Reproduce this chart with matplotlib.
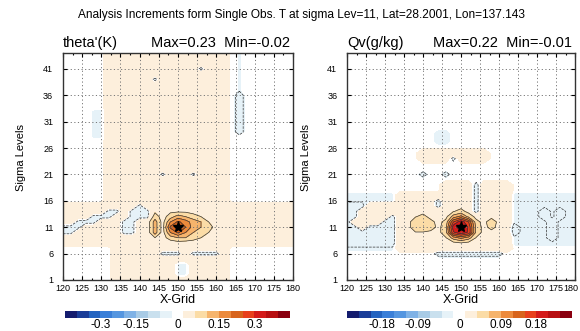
import numpy as np
import matplotlib.pyplot as plt
from matplotlib.transforms import ScaledTranslation

plt.rcParams['font.family'] = ['Liberation Sans', 'DejaVu Sans']

# grid of the cross-section
x_grid = np.arange(120, 181, 2)
sigma = np.arange(44, 0, -1)   # rows of the maps below, top row first

obs_x = 150
obs_level = 11

# value of each letter in the maps
code_value = {'.': 0.0, 'c': -0.007, 'b': -0.02, 'p': 0.02, 'a': 0.028, 'A': 0.04,
              '2': 0.05, '3': 0.075, '4': 0.10, '5': 0.125, '6': 0.15, '7': 0.175,
              '8': 0.20, 'E': 0.21, '9': 0.225, 'F': 0.23}

# theta'(K) (x = 120..180 step 2, sigma 44..1)
theta_rows = [
    "......pppppppppppppppp.c.......",  # 44
    "......pppppppppppppppp.c.......",
    "......pppppppppppppppp.c.......",
    "......ppppppppppppbppp.c.......",  # 41
    "......pppppppppppppppp.c.......",
    "......ppppppbppppppppp.c.......",
    "......pppppppppppppppp.c.......",
    "......pppppppppppppppp.c.......",
    "......pppppppppppppppp.b.......",  # 36
    "......pppppppppppppppp.b.......",
    "......pppppppppppppppp.b.......",
    "....ccpppppppppppppppp.b.......",
    "....ccpppppppppppppppp.b.......",
    "....ccpppppppppppppppp.b.......",  # 31
    "....ccpppppppppppppppp.b.......",
    "....ccpppppppppppppppp.b.......",
    "....ccpppppppppppppppp.........",
    "......pppppppppppppppp.........",
    "......pppppppppppppppp.........",  # 26
    "......pppppppppppppppp.........",
    "......pppppppppppppppp.........",
    "......pppppppppppppppp.........",
    "......pppppppppppppppp.........",
    "......pppppppbpppbpppp.........",  # 21
    "......pppppppppppppppp.........",
    "......pppppppppppppppp.........",
    "......pppppppppppppppp.........",
    "......pppppppppppppppp.........",
    "......pppppppppppppppp.........",  # 16
    "ppppppppppbpppppppppppppppppppp",
    "ppppppbbpbbbAaAAAappppppppppppp",
    "ppppbbbppbbb3a35432Appppppppppp",
    "ppbbbpppbbpp5a6E7542ppppppppppp",
    "bbbpppppbbpp5aEF8543apppppppppp",  # 11
    "bbppppppbbpp5a6E6432ppppppppppp",
    "pppppppppppp2a34432Appppppppppp",
    "pppppppppppppppappppppppppppppp",
    ".......ppppppppppppppp.........",
    ".......ppppppbbbpbbbbp.........",  # 6
    ".......ppppppppppppppp.........",
    ".......ppppppppccppppp.........",
    ".......ppppppppccppppp.........",
    ".......ppppppppccppppp.........",
    ".......ppppppppppppppp.........",  # 1
]

# Qv(g/kg)
qv_rows = [
    "...............................",  # 44
    "...............................",
    "...............................",
    "...............................",  # 41
    "...............................",
    "...............................",
    "...............................",
    "...............................",
    "...............................",  # 36
    "...............................",
    "...............................",
    "...............................",
    "...............................",
    "...............................",  # 31
    "...............................",
    "............cc.................",
    "............cc.................",
    "............cc.................",
    "...............................",  # 26
    "..........ppppppppp............",
    "..........ppppbpppp............",
    "...............................",
    "...............................",
    "..........b..b.................",  # 21
    "...............................",
    ".............ppppbpppp.........",
    ".............ppppbpppp.........",
    "cccccccppppppppppbppppccccccccc",
    "cccccccpppppbppppbppppccccccccc",  # 16
    "bbbpppppppppbppppbppppccccccccc",
    "bbppppppppppppaApbppppccccbcbcc",
    "bbppppbppaAppp342pppppccccbcbcc",
    "bppppbbpp22ApA686Ap2ppcccccbccc",
    "bbpbbbbpp222p28972pAppbccccbccc",  # 11
    "bbbbbbbppaapp27872ppppbccccbccc",
    "bbbbbbbppppppa343appppcccccbccc",
    "bbbbbbbppppppppappppppccccccccc",
    "cccccccppppppppppppppp.........",
    "............bbbbbbbbb..........",  # 6
    "...............................",
    "...............................",
    "...............................",
    "...............................",
    "...............................",  # 1
]

theta_levels = [-0.45, -0.4, -0.35, -0.3, -0.25, -0.2, -0.15, -0.1, -0.05, -0.005,
                0.005, 0.05, 0.1, 0.15, 0.2, 0.25, 0.3, 0.35, 0.4, 0.45]
qv_levels = [-0.27, -0.24, -0.21, -0.18, -0.15, -0.12, -0.09, -0.06, -0.03, -0.003,
             0.003, 0.03, 0.06, 0.09, 0.12, 0.15, 0.18, 0.21, 0.24, 0.27]
theta_lines = [-0.01, 0.05, 0.1, 0.15, 0.2]
qv_lines = [-0.01, 0.03, 0.06, 0.09, 0.12, 0.15, 0.18, 0.21]

theta_ticks = [-0.3, -0.15, 0, 0.15, 0.3]
qv_ticks = [-0.18, -0.09, 0, 0.09, 0.18]

fill_colors = ['#141c6e', '#1a3d98', '#2464c0', '#3a7fd8', '#5596e0', '#7fb2e6',
               '#a8cbe6', '#c9e0ee', '#e6f2f8', '#ffffff', '#fdefdc', '#fbdca6',
               '#f6b46c', '#ec8a3c', '#d8641c', '#e8401c', '#d41a1a', '#b80f12',
               '#8a0010']

main_title = "Analysis Increments form Single Obs. T at sigma Lev=11, Lat=28.2001, Lon=137.143"
panels = [
    ("theta'(K)", "Max=0.23  Min=-0.02", theta_rows, theta_levels, theta_lines, theta_ticks),
    ("Qv(g/kg)", "Max=0.22  Min=-0.01", qv_rows, qv_levels, qv_lines, qv_ticks),
]


def decode(rows):
    return np.array([[code_value[ch] for ch in row] for row in rows])


fig = plt.figure(figsize=(5.8, 3.31), dpi=100)
fig.text(0.52, 0.955, main_title, ha='center', va='center', fontsize=8.6)

ax_boxes = [[0.1086, 0.1541, 0.3966, 0.6858], [0.5983, 0.1541, 0.3931, 0.6858]]
cb_boxes = [[0.112, 0.0393, 0.388, 0.021], [0.598, 0.0393, 0.388, 0.021]]

X, Y = np.meshgrid(x_grid, sigma)

for i, (name, maxmin, rows, levels, lines, ticks) in enumerate(panels):
    Z = decode(rows)
    ax = fig.add_axes(ax_boxes[i])
    cf = ax.contourf(X, Y, Z, levels=levels, colors=fill_colors)
    ax.contour(X, Y, Z, levels=lines, colors='#333333', linewidths=0.5)
    ax.plot(obs_x, obs_level, marker='*', color='black', markersize=8, linestyle='none')

    ax.set_xlim(120, 180)
    ax.set_ylim(1, 44)
    ax.set_xticks(np.arange(120, 181, 5))
    ax.set_yticks(np.arange(1, 42, 5))
    ax.set_xticks(np.arange(120, 181, 2.5), minor=True)
    ax.tick_params(which='both', direction='in', top=True, right=True, labelsize=6.5,
                   length=3, width=0.8)
    ax.tick_params(which='minor', length=1.5)
    ax.tick_params(axis='x', pad=3)
    ax.tick_params(axis='y', pad=7)
    ax.grid(True, which='major', color='#777777', linestyle=(0, (1.2, 2.5)), linewidth=0.7)
    for s in ax.spines.values():
        s.set_linewidth(1.0)
        s.set_color('#333333')

    # keep the last x label inside the figure
    if i == 1:
        last = ax.get_xticklabels()[-1]
        last.set_transform(last.get_transform() + ScaledTranslation(-4.5 / 100, 0, fig.dpi_scale_trans))

    ax.set_ylabel('Sigma Levels', fontsize=8)
    ax.yaxis.set_label_coords(-0.16, 0.54)
    ax.set_xlabel('X-Grid', fontsize=9, labelpad=0)
    ax.xaxis.set_label_coords(0.5, -0.06)

    ax.text(0.0, 1.012, name, transform=ax.transAxes, ha='left', va='bottom', fontsize=10.5)
    ax.text(0.985, 1.012, maxmin, transform=ax.transAxes, ha='right', va='bottom', fontsize=10.5)

    cax = fig.add_axes(cb_boxes[i])
    cb = fig.colorbar(cf, cax=cax, orientation='horizontal', ticks=ticks, spacing='uniform')
    cb.outline.set_visible(False)
    cb.set_ticklabels([('%g' % t) for t in ticks])
    cax.tick_params(length=0, labelsize=8.5, pad=1)

fig.savefig('out.png', dpi=100)
